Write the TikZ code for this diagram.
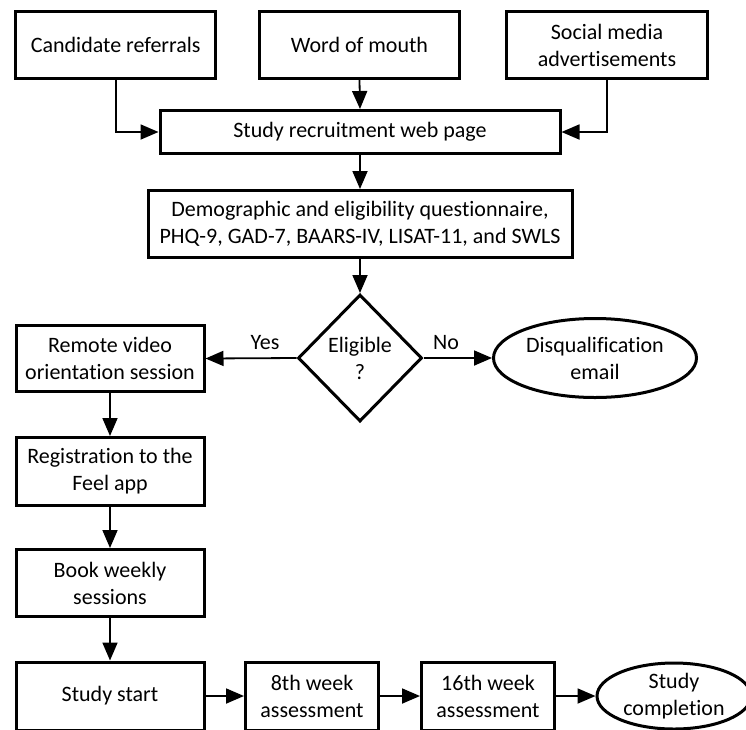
\documentclass[tikz,border=0pt]{standalone}
\usepackage{fontspec}
\setmainfont{Carlito}[Ligatures={NoCommon}]
\usetikzlibrary{shapes.geometric,arrows.meta}
\begin{document}
\begin{tikzpicture}[x=1pt,y=-1pt,
  txt/.style={font=\fontsize{22}{27}\selectfont, align=center},
  box/.style={txt, draw, line width=3pt, inner sep=0pt},
  oval/.style={txt, ellipse, draw, line width=3pt, inner sep=0pt},
  dia/.style={txt, diamond, draw, line width=3pt, inner sep=0pt},
  arr/.style={line width=1.8pt, -{Triangle[length=18pt,width=15pt]}}]
\fill[white] (0,0) rectangle (746,729);
\useasboundingbox (0,0) rectangle (746,729);
\node[box, minimum width=200, minimum height=67] (cand) at (115.7,45) {Candidate referrals};
\node[box, minimum width=200, minimum height=67] (word) at (359.5,45) {Word of mouth};
\node[box, minimum width=201, minimum height=67] (soc) at (607,45) {Social media\\advertisements};
\node[box, minimum width=400, minimum height=43] (web) at (360,132) {Study recruitment web page};
\node[box, minimum width=424, minimum height=67] (demo) at (360,224) {Demographic and eligibility questionnaire,\\PHQ-9, GAD-7, BAARS-IV, LISAT-11, and SWLS};
\node[dia, minimum width=124, minimum height=127] (elig) at (360,358) {Eligible\\?};
\node[box, minimum width=188, minimum height=66] (remote) at (110,358.5) {Remote video\\orientation session};
\node[oval, minimum width=203, minimum height=79] (disq) at (595,358) {Disqualification\\email};
\node[box, minimum width=188, minimum height=68] (reg) at (110,471.5) {Registration to the\\Feel app};
\node[box, minimum width=188, minimum height=67] (book) at (110,583) {Book weekly\\sessions};
\node[box, minimum width=188, minimum height=68] (start) at (110,696) {Study start};
\node[box, minimum width=133, minimum height=68] (w8) at (312,696) {8th week\\assessment};
\node[box, minimum width=133, minimum height=68] (w16) at (488,696) {16th week\\assessment};
\node[oval, minimum width=154, minimum height=66] (done) at (674,696) {Study\\completion};
\node[txt] (yes) at (265,343) {Yes};
\node[txt] (no) at (446,343) {No};
\draw[arr] (cand.south) |- (web.west);
\draw[arr] (soc.south) |- (web.east);
\draw[arr] (word.south) -- (web.north);
\draw[arr] (web.south) -- (demo.north);
\draw[arr] (demo.south) -- (elig.north);
\draw[arr] (elig.west) -- (remote.east);
\draw[arr] (elig.east) -- (disq.west);
\draw[arr] (remote.south) -- (reg.north);
\draw[arr] (reg.south) -- (book.north);
\draw[arr] (book.south) -- (start.north);
\draw[arr] (start.east) -- (w8.west);
\draw[arr] (w8.east) -- (w16.west);
\draw[arr] (w16.east) -- (done.west);
\end{tikzpicture}
\end{document}
